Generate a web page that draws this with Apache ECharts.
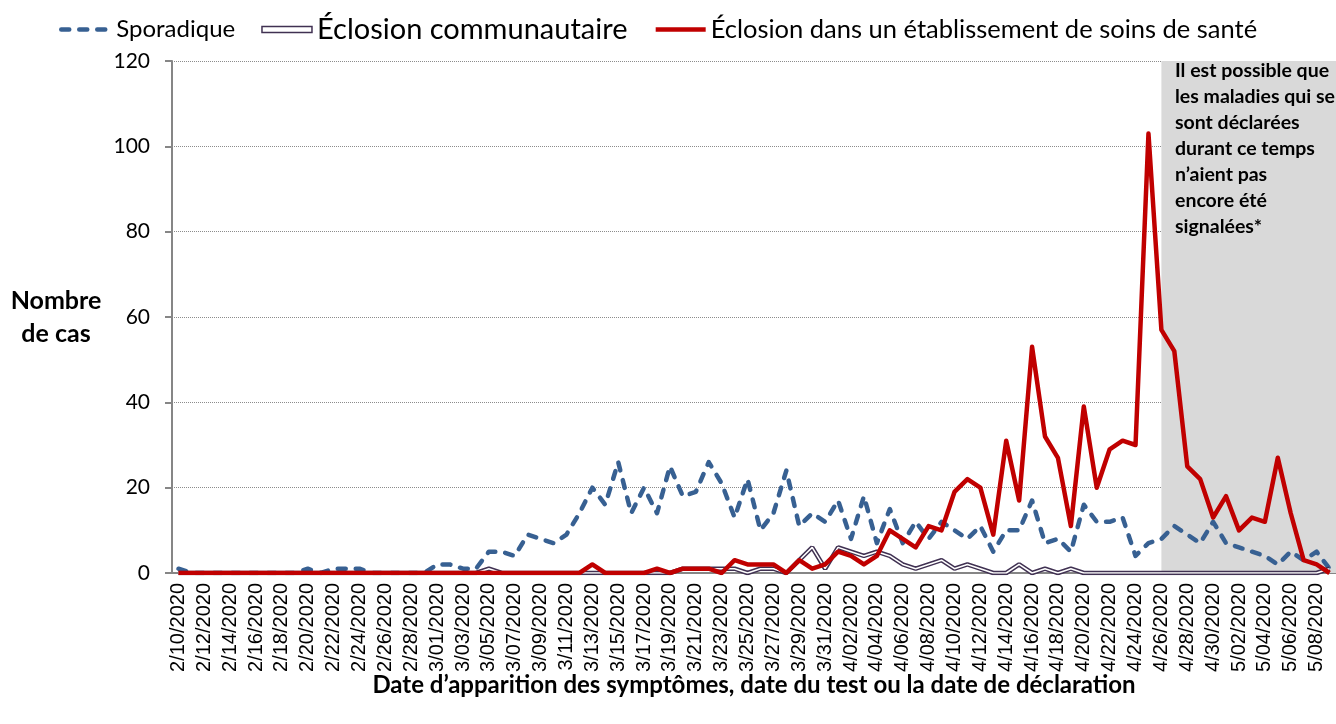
<!DOCTYPE html>
<html>
<head>
<meta charset="utf-8">
<script src="https://cdn.jsdelivr.net/npm/echarts@6/dist/echarts.min.js"></script>
<style>
html, body { margin: 0; padding: 0; background: #fff; }
#chart { width: 1336px; height: 724px; }
</style>
</head>
<body>
<div id="chart"></div>
<script>
// daily categories, 2/10/2020 .. 5/09/2020
var firstDay = new Date(2020, 1, 10);
var dayCount = 90;
var dates = [];
for (var d = 0; d < dayCount; d++) {
    var dt = new Date(firstDay.getFullYear(), firstDay.getMonth(), firstDay.getDate() + d);
    var dd = dt.getDate();
    dates.push((dt.getMonth() + 1) + '/' + (dd < 10 ? '0' + dd : dd) + '/2020');
}

var seriesNames = ['Sporadique', 'Éclosion communautaire', 'Éclosion dans un établissement de soins de santé'];

var sporadique = [
    1, 0, 0, 0, 0, 0, 0, 0, 0, 0,
    1, 0, 1, 1, 1, 0, 0, 0, 0, 0,
    2, 2, 1, 1, 5, 5, 4, 9, 8, 7,
    9, 14, 20, 16, 26, 14, 20, 14, 25, 18,
    19, 26, 21, 13, 22, 10, 14, 24, 11, 14,
    12, 17, 8, 18, 7, 15, 7, 12, 8, 12,
    10, 8, 11, 5, 10, 10, 17, 7, 8, 5,
    16, 12, 12, 13, 4, 7, 8, 11, 9, 7,
    12, 7, 6, 5, 4, 2, 5, 3, 5, 1
];

var communautaire = [
    0, 0, 0, 0, 0, 0, 0, 0, 0, 0,
    0, 0, 0, 0, 0, 0, 0, 0, 0, 0,
    0, 0, 0, 0, 1, 0, 0, 0, 0, 0,
    0, 0, 0, 0, 0, 0, 0, 0, 0, 1,
    1, 1, 1, 1, 0, 1, 1, 0, 3, 6,
    1, 6, 5, 4, 5, 4, 2, 1, 2, 3,
    1, 2, 1, 0, 0, 2, 0, 1, 0, 1,
    0, 0, 0, 0, 0, 0, 0, 0, 0, 0,
    0, 0, 0, 0, 0, 0, 0, 0, 0, 1
];

var etablissement = [
    0, 0, 0, 0, 0, 0, 0, 0, 0, 0,
    0, 0, 0, 0, 0, 0, 0, 0, 0, 0,
    0, 0, 0, 0, 0, 0, 0, 0, 0, 0,
    0, 0, 2, 0, 0, 0, 0, 1, 0, 1,
    1, 1, 0, 3, 2, 2, 2, 0, 3, 1,
    2, 5, 4, 2, 4, 10, 8, 6, 11, 10,
    19, 22, 20, 9, 31, 17, 53, 32, 27, 11,
    39, 20, 29, 31, 30, 103, 57, 52, 25, 22,
    13, 18, 10, 13, 12, 27, 14, 3, 2, 0
];

var shadeStart = '4/26/2020';
var noteLines = ['Il est possible que', 'les maladies qui se', 'sont déclarées', 'durant ce temps', 'n’aient pas', 'encore été', 'signalées*'];

var chart = echarts.init(document.getElementById('chart'));
var option = {
    animation: false,
    textStyle: { fontFamily: 'Lato' },
    legend: {
        left: 54,
        top: 10,
        itemWidth: 50,
        itemHeight: 6,
        itemGap: 26,
        textStyle: { color: '#000', fontFamily: 'Lato' },
        lineStyle: { width: 4.5 },
        data: [
            { name: seriesNames[0], itemStyle: { opacity: 0 }, textStyle: { fontSize: 24 } },
            {
                name: seriesNames[1], icon: 'rect',
                itemStyle: { color: '#fff', borderColor: '#403152', borderWidth: 1.5 },
                textStyle: { fontSize: 29 }
            },
            { name: seriesNames[2], itemStyle: { opacity: 0 }, textStyle: { fontSize: 25.5 } }
        ]
    },
    grid: { left: 172, right: 0, top: 61, bottom: 151 },
    xAxis: {
        type: 'category',
        data: dates,
        boundaryGap: true,
        name: 'Date d’apparition des symptômes, date du test ou la date de déclaration',
        nameLocation: 'middle',
        nameGap: 100,
        nameMoveOverlap: false,
        nameTextStyle: { fontWeight: 'bold', fontSize: 24, color: '#000' },
        axisLine: { lineStyle: { color: '#868686', width: 2 } },
        axisTick: { interval: 1, length: 7, lineStyle: { color: '#868686', width: 2 } },
        axisLabel: { interval: 1, rotate: 90, fontSize: 20, fontFamily: 'Liberation Sans', color: '#000', margin: 10 }
    },
    yAxis: {
        type: 'value',
        min: 0,
        max: 120,
        interval: 20,
        name: 'Nombre\nde cas',
        nameLocation: 'middle',
        nameRotate: 0,
        nameGap: 116,
        nameMoveOverlap: false,
        nameTextStyle: { fontWeight: 'bold', fontSize: 25, lineHeight: 33, align: 'center', color: '#000' },
        axisLine: { show: true, lineStyle: { color: '#868686', width: 2 } },
        axisTick: { show: true, length: 7, lineStyle: { color: '#868686', width: 2 } },
        axisLabel: { fontSize: 21, color: '#000', margin: 22 },
        splitLine: { lineStyle: { color: '#8c8c8c', type: 'dotted', width: 1 } }
    },
    series: [
        {
            name: seriesNames[0],
            type: 'line',
            data: sporadique,
            symbol: 'none',
            itemStyle: { color: '#376092' },
            lineStyle: { color: '#376092', width: 4.5, type: [8, 10], cap: 'round', join: 'round' },
            emphasis: { disabled: true },
            markArea: {
                silent: true,
                itemStyle: { color: '#D9D9D9' },
                data: [[{ xAxis: shadeStart }, { xAxis: Infinity }]]
            }
        },
        {
            name: seriesNames[1],
            type: 'line',
            data: communautaire,
            symbol: 'none',
            itemStyle: { color: '#403152' },
            lineStyle: { color: '#403152', width: 4.5 },
            emphasis: { disabled: true }
        },
        {
            name: 'communautaire-centre',
            type: 'line',
            data: communautaire,
            symbol: 'none',
            itemStyle: { color: '#fff' },
            lineStyle: { color: '#fff', width: 1.5 },
            emphasis: { disabled: true }
        },
        {
            name: seriesNames[2],
            type: 'line',
            data: etablissement,
            symbol: 'none',
            itemStyle: { color: '#C00000' },
            lineStyle: { color: '#C00000', width: 4.5, join: 'round' },
            emphasis: { disabled: true }
        }
    ],
    graphic: [
        {
            type: 'text',
            right: 1,
            top: 58,
            z: 100,
            style: {
                text: noteLines.join('\n'),
                fontFamily: 'Lato',
                fontWeight: 'bold',
                fontSize: 19.5,
                lineHeight: 26,
                align: 'right',
                fill: '#000'
            }
        }
    ]
};
chart.setOption(option);
window.addEventListener('resize', function () {
    chart.resize();
});
</script>
</body>
</html>
